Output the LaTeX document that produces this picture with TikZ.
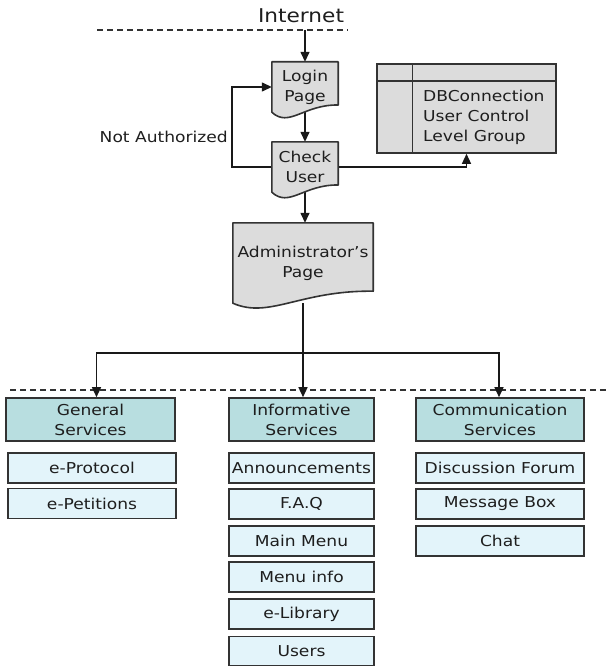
\documentclass[tikz,border=0pt]{standalone}
\usepackage{fontspec}
\setmainfont{DejaVu Sans}[FakeStretch=1.14]
\usetikzlibrary{arrows.meta,calc}
\pgfdeclarelayer{connlayer}
\pgfdeclarelayer{shapelayer}
\pgfsetlayers{connlayer,shapelayer,main}
\definecolor{linec}{HTML}{333333}
\definecolor{docgray}{HTML}{DCDCDC}
\definecolor{hdrteal}{HTML}{B8DEE0}
\definecolor{subcyan}{HTML}{E3F4FA}
\definecolor{textc}{HTML}{1E1E1E}
\newcommand\docoutline[2]{%
  \draw[docshape] (#1.north west) -- (#1.north east)
    -- ($(#1.south east)+(0,-1.2*#2)$)
    .. controls ($(#1.south west)!0.48!(#1.south east)+(0,-1.3*#2)$)
    and ($(#1.south west)!0.26!(#1.south east)+(0,16)$)
    .. (#1.south west) -- cycle;}
\begin{document}
\begin{tikzpicture}[x=1pt,y=-1pt,
  font=\fontsize{15}{20}\selectfont, text=textc,
  docnode/.style={rectangle, inner sep=0pt, align=center},
  docshape/.style={draw=linec, line width=1.6pt, fill=docgray, line join=round},
  hdrbox/.style={rectangle, draw=linec, line width=1.6pt, fill=hdrteal, inner sep=0pt, align=center, minimum height=43pt},
  subbox/.style={rectangle, draw=linec, line width=1.6pt, fill=subcyan, inner sep=0pt, align=center, minimum height=30pt},
  dbbox/.style={rectangle, draw=linec, line width=1.6pt, fill=docgray, inner sep=0pt},
  arrowline/.style={draw=black!90, line width=1.4pt, -{Triangle[length=10pt,width=9pt]}},
  plainline/.style={draw=black!90, line width=1.4pt},
  dashline/.style={draw=linec, line width=1.3pt, dash pattern=on 6pt off 4pt}
]
\useasboundingbox (0,0) rectangle (608,666);

% top part
\node[inner sep=0pt, font=\fontsize{19}{22}\selectfont] (inet) at (301,16) {Internet};
\coordinate (intop) at (305,30);
\node[docnode, minimum width=66pt, minimum height=50pt] (login) at (305,87) {Login\\Page};
\node[docnode, minimum width=66pt, minimum height=50pt] (check) at (305,167) {Check\\User};
\node[docnode, minimum width=140pt, minimum height=80pt] (admin) at (303,263) {Administrator’s\\Page};
\node[dbbox, minimum width=179pt, minimum height=89pt] (db) at (466.5,108.5) {};
\node[inner sep=0pt, anchor=west, align=left] (dbtext) at (423,117) {DBConnection\\User Control\\Level Group};
\node[inner sep=0pt, anchor=east] (notauth) at (228,137) {Not Authorized};

\draw[linec, line width=1.4pt] ($(db.north west)+(0,18)$) -- ($(db.north east)+(0,18)$);
\draw[linec, line width=1.4pt] ($(db.north west)+(36,0)$) -- ($(db.south west)+(36,0)$);

\begin{pgfonlayer}{shapelayer}
  \docoutline{login}{6}
  \docoutline{check}{6}
  \docoutline{admin}{10}
\end{pgfonlayer}

% services
\node[hdrbox, minimum width=169pt] (gen) at (90.5,419.5) {General\\Services};
\node[hdrbox, minimum width=145pt] (info) at (301.5,419.5) {Informative\\Services};
\node[hdrbox, minimum width=168pt] (comm) at (500,419.5) {Communication\\Services};

\node[subbox, minimum width=168pt] (eprot) at (92,468) {e-Protocol};
\node[subbox, minimum width=168pt] (epet) at (92,503.5) {e-Petitions};

\node[subbox, minimum width=145pt] (ann) at (301.5,468) {Announcements};
\node[subbox, minimum width=145pt] (faq) at (301.5,504) {F.A.Q};
\node[subbox, minimum width=145pt] (mmenu) at (301.5,541) {Main Menu};
\node[subbox, minimum width=145pt] (minfo) at (301.5,577) {Menu info};
\node[subbox, minimum width=145pt] (elib) at (301.5,614) {e-Library};
\node[subbox, minimum width=145pt, minimum height=29pt] (users) at (301.5,651) {Users};

\node[subbox, minimum width=168pt] (forum) at (500,468) {Discussion Forum};
\node[subbox, minimum width=168pt] (msg) at (500,504) {Message Box};
\node[subbox, minimum width=168pt] (chat) at (500,541) {Chat};

\coordinate (jn) at (303,353);

\begin{pgfonlayer}{connlayer}
  \draw[dashline] (97,30) -- (348,30);
  \draw[dashline] (10,390) -- (608,390);
  \draw[arrowline] (intop) -- (login.north);
  \draw[arrowline] (login.south) -- (check.north);
  \draw[arrowline] (check.west) -- ++(-40,0) |- (login.west);
  \draw[arrowline] (check.east) -| (db.south);
  \draw[arrowline] (check.south) -- (check.south |- admin.north);
  \draw[plainline] (admin.south) -- (jn);
  \draw[arrowline] (jn) -| ([xshift=6pt]gen.north);
  \draw[arrowline] (jn) -- (jn |- info.north);
  \draw[arrowline] (jn) -| ([xshift=-1pt]comm.north);
\end{pgfonlayer}
\end{tikzpicture}
\end{document}
